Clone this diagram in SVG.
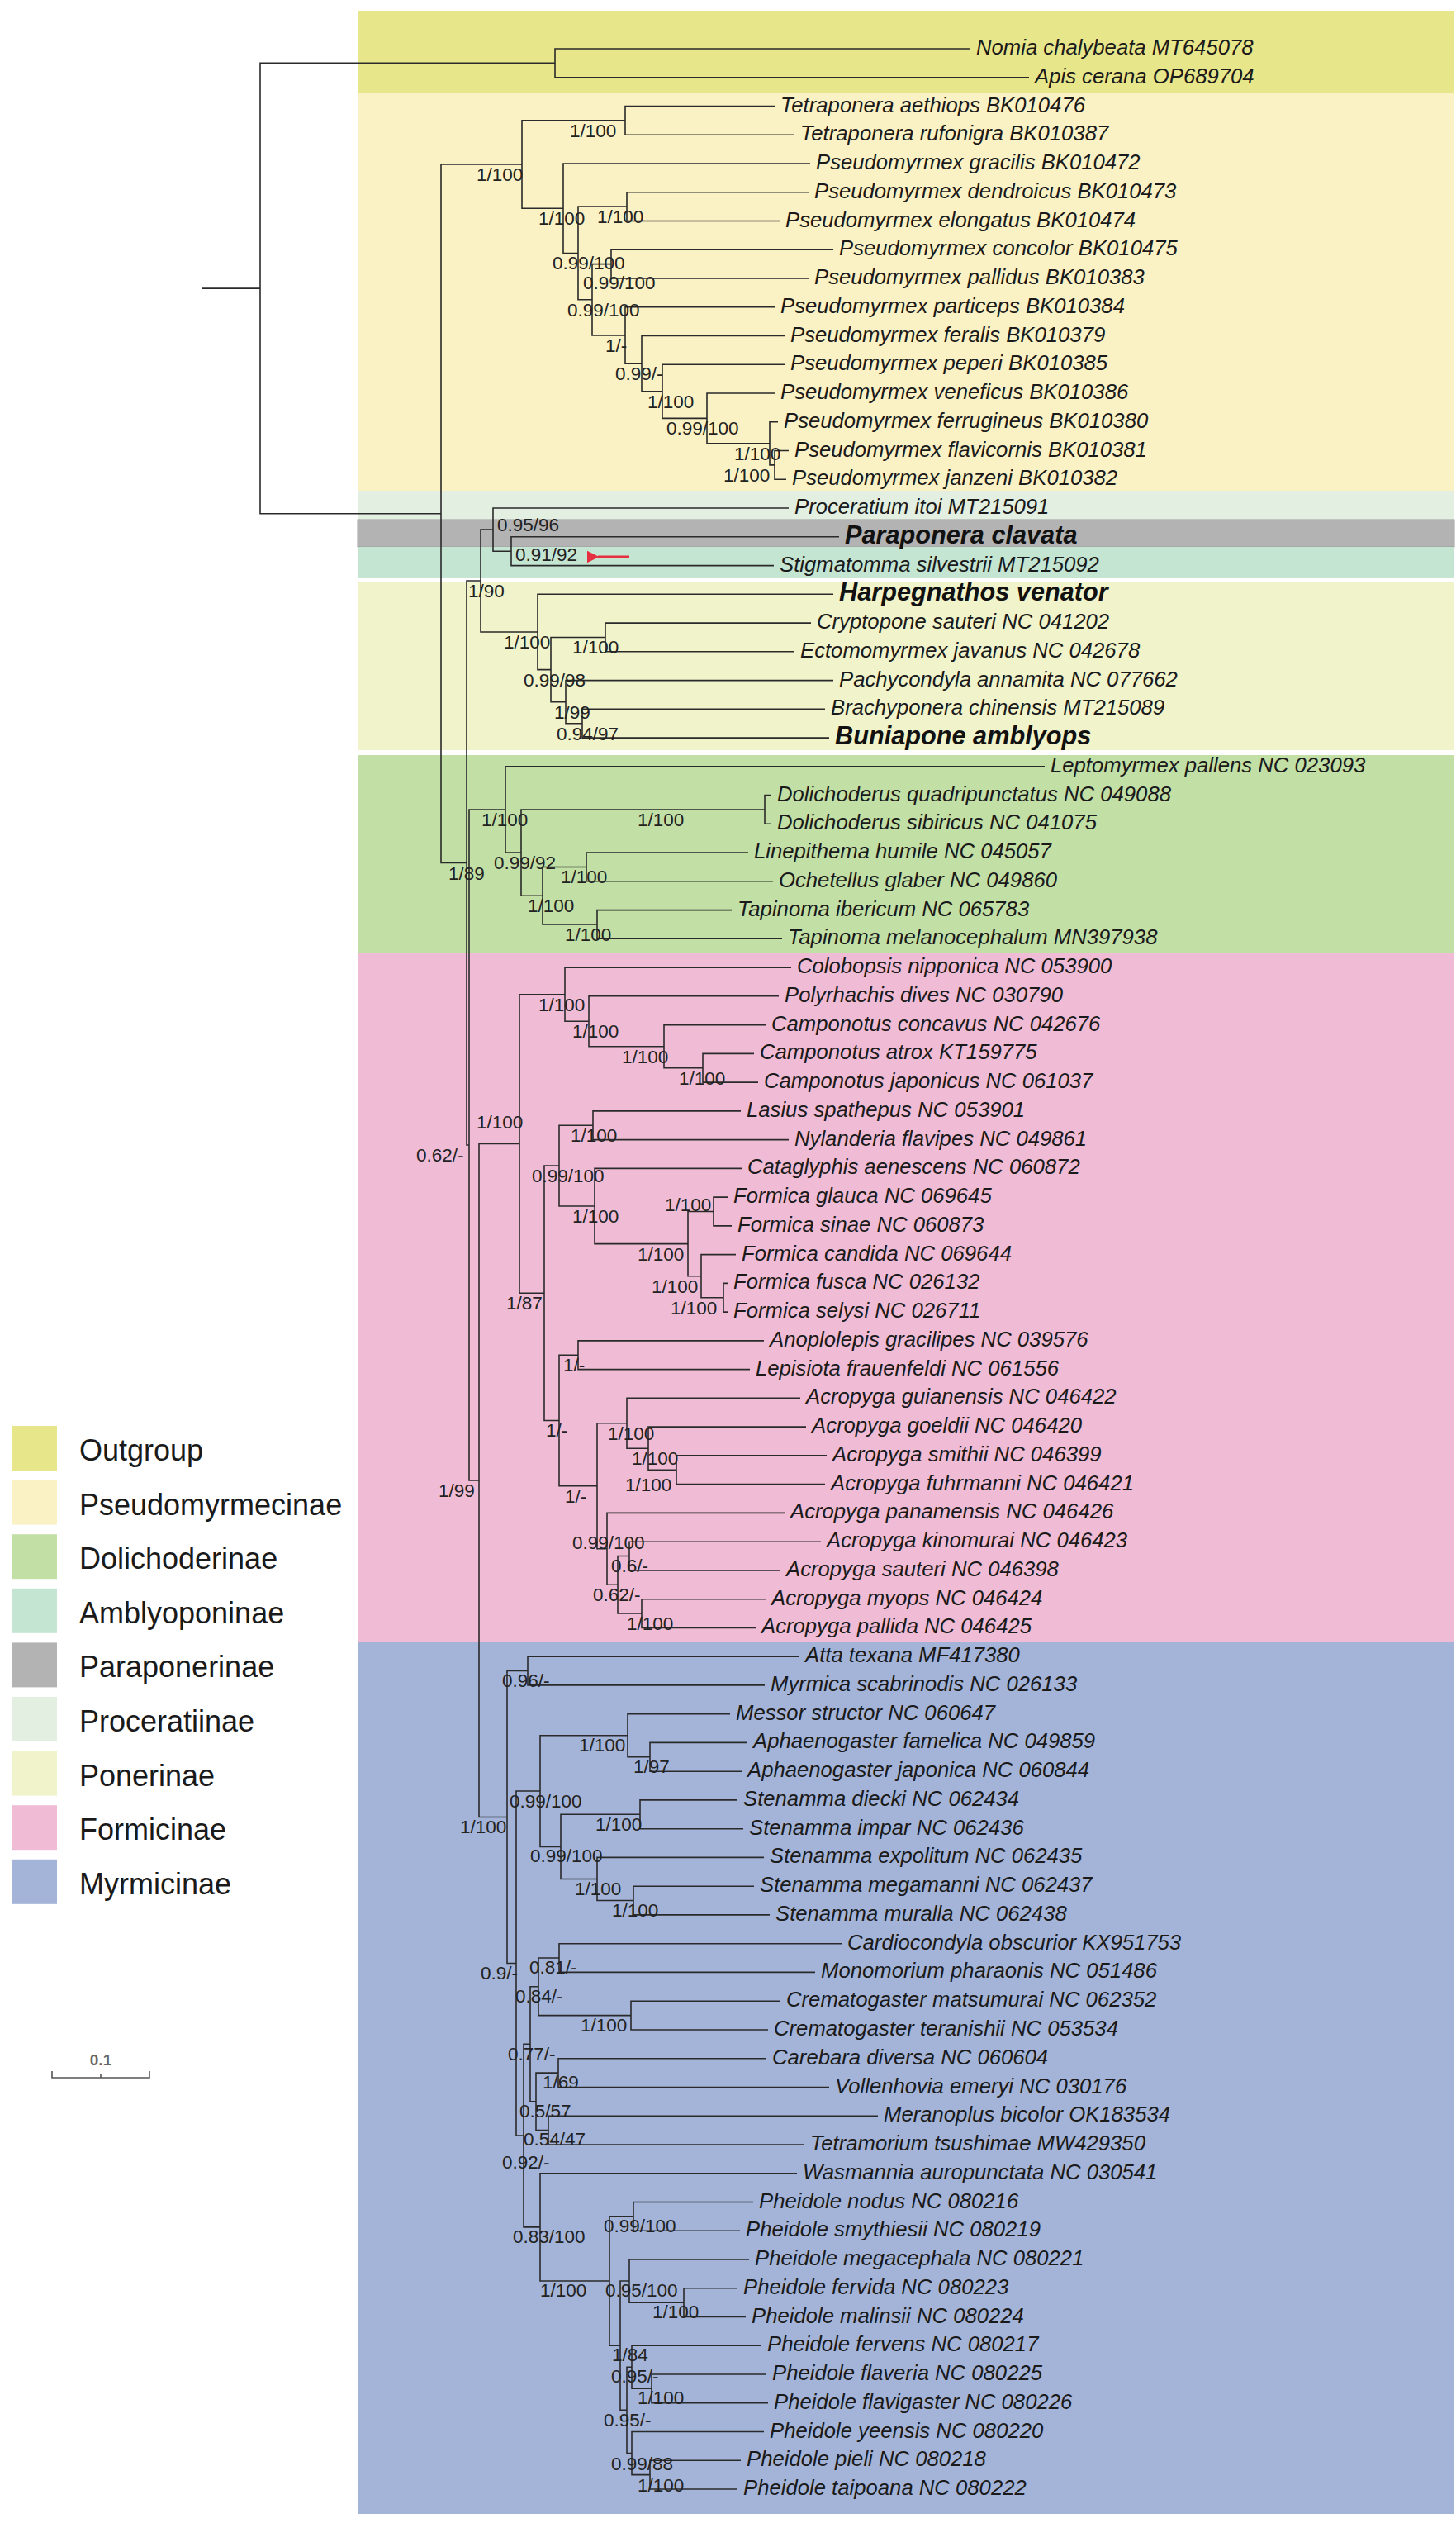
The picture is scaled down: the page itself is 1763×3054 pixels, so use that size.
<svg xmlns="http://www.w3.org/2000/svg" width="1763" height="3054" viewBox="0 0 1763 3054">
<defs>
<style>
.t{font-family:"Liberation Sans",Arial,sans-serif;font-style:italic;font-size:25.7px;fill:#1a1a1a}
.tb{font-family:"Liberation Sans",Arial,sans-serif;font-style:italic;font-weight:bold;font-size:30.7px;fill:#111}
.s{font-family:"Liberation Sans",Arial,sans-serif;font-size:22.5px;fill:#222}
.lg{font-family:"Liberation Sans",Arial,sans-serif;font-size:36px;fill:#1a1a1a}
.br{fill:none;stroke:#2a2a2a;stroke-width:1.6}
</style>
<marker id="ah" viewBox="0 0 10 10" refX="1" refY="5" markerWidth="5" markerHeight="5" orient="auto-start-reverse"><path d="M10 0L0 5L10 10z" fill="#e5303f"/></marker>
</defs>
<rect width="1763" height="3054" fill="#fff"/>
<g id="bands">
<rect x="433" y="13" width="1328" height="100" fill="#e8e68a"/>
<rect x="433" y="113" width="1328" height="481" fill="#faf2c5"/>
<rect x="433" y="594" width="1328" height="35" fill="#e2efe1"/>
<rect x="433" y="629" width="1328" height="33" fill="#b3b3b3" stroke="#9d9d9d" stroke-width="1"/>
<rect x="433" y="662" width="1328" height="38" fill="#c5e5d3"/>
<rect x="433" y="704" width="1328" height="204" fill="#f1f4cb"/>
<rect x="433" y="914" width="1328" height="240" fill="#c2dfa6"/>
<rect x="433" y="1154" width="1328" height="834" fill="#f0bcd5"/>
<rect x="433" y="1988" width="1328" height="1055" fill="#a3b4d8"/>
</g>
<g id="legend">
<rect x="15" y="1726" width="54" height="54" fill="#e8e68a"/><text class="lg" x="96" y="1768">Outgroup</text>
<rect x="15" y="1791.6" width="54" height="54" fill="#faf2c5"/><text class="lg" x="96" y="1833.6">Pseudomyrmecinae</text>
<rect x="15" y="1857.2" width="54" height="54" fill="#c2dfa6"/><text class="lg" x="96" y="1899.2">Dolichoderinae</text>
<rect x="15" y="1922.8" width="54" height="54" fill="#c5e5d3"/><text class="lg" x="96" y="1964.8">Amblyoponinae</text>
<rect x="15" y="1988.4" width="54" height="54" fill="#b3b3b3"/><text class="lg" x="96" y="2030.4">Paraponerinae</text>
<rect x="15" y="2054" width="54" height="54" fill="#e2efe1"/><text class="lg" x="96" y="2096">Proceratiinae</text>
<rect x="15" y="2119.6" width="54" height="54" fill="#f1f4cb"/><text class="lg" x="96" y="2161.6">Ponerinae</text>
<rect x="15" y="2185.2" width="54" height="54" fill="#f0bcd5"/><text class="lg" x="96" y="2227.2">Formicinae</text>
<rect x="15" y="2250.8" width="54" height="54" fill="#a3b4d8"/><text class="lg" x="96" y="2292.8">Myrmicinae</text>
</g>
<g id="scalebar">
<path d="M63 2507V2515H181V2507M122 2511V2515" fill="none" stroke="#555" stroke-width="1.6"/>
<text x="122" y="2500" text-anchor="middle" font-family="Liberation Sans,Arial,sans-serif" font-size="19" font-weight="bold" fill="#666">0.1</text>
</g>
<g id="connectors" class="br">
<path d="M245 349.1H315"/>
<path d="M672 76.4H315V621.8H534"/>
<path d="M1175 59H672V93.8H1246"/>
<path d="M632 199H534V1044.5H565"/>
<path d="M757 145.9H632V252.2H682"/>
<path d="M938 128.5H757V163.3H962"/>
<path d="M981 198H682V306.5H700"/>
<path d="M759 250.1H700V362.8H717"/>
<path d="M979 232.8H759V267.5H944"/>
<path d="M740 319.6H717V406H757"/>
<path d="M1009 302.3H740V337H979"/>
<path d="M938 371.8H757V440.2H777"/>
<path d="M950 406.5H777V473.8H802"/>
<path d="M950 441.3H802V506.4H856"/>
<path d="M938 476H856V536.8H932"/>
<path d="M942 510.8H932V562.9H938"/>
<path d="M955 545.5H938V580.3H952"/>
<path d="M582 703H565V1386H568"/>
<path d="M597 641.1H582V765H651"/>
<path d="M955 615H597V667.2H619"/>
<path d="M1016 649.8H619V684.6H937"/>
<path d="M1009 719.3H651V810.6H667"/>
<path d="M733 771.5H667V849.6H685"/>
<path d="M982 754.1H733V788.8H962"/>
<path d="M1009 823.6H685V875.7H705"/>
<path d="M999 858.3H705V893.1H1004"/>
<path d="M612 980H568V1792H580"/>
<path d="M1265 927.8H612V1032.1H631"/>
<path d="M926 980H631V1084.2H657"/>
<path d="M934 962.6H926V997.3H934"/>
<path d="M710 1049.5H657V1119H723"/>
<path d="M906 1032.1H710V1066.8H936"/>
<path d="M886 1101.6H723V1136.3H947"/>
<path d="M629 1384.5H580V2199.5H614"/>
<path d="M684 1203.7H629V1565.3H659"/>
<path d="M958 1171.1H684V1236.2H713"/>
<path d="M943 1205.8H713V1266.7H804"/>
<path d="M927 1240.6H804V1292.7H851"/>
<path d="M913 1275.4H851V1310.1H918"/>
<path d="M677 1411.1H659V1719.5H677"/>
<path d="M718 1362.2H677V1460H720"/>
<path d="M897 1344.9H718V1379.6H955"/>
<path d="M898 1414.4H720V1505.6H833"/>
<path d="M864 1466.5H833V1544.7H849"/>
<path d="M881 1449.1H864V1483.9H886"/>
<path d="M891 1518.6H849V1570.7H876"/>
<path d="M881 1553.4H876V1588.1H881"/>
<path d="M700 1640.2H677V1798.8H723"/>
<path d="M925 1622.9H700V1657.6H908"/>
<path d="M759 1722.8H723V1874.8H735"/>
<path d="M969 1692.4H759V1753.2H785"/>
<path d="M976 1727.1H785V1779.2H819"/>
<path d="M1001 1761.9H819V1796.6H999"/>
<path d="M950 1831.4H735V1918.3H748"/>
<path d="M762 1883.5H748V1953H777"/>
<path d="M994 1866.2H762V1900.9H945"/>
<path d="M927 1935.7H777V1970.4H915"/>
<path d="M639 2022.5H614V2376.5H625"/>
<path d="M968 2005.2H639V2039.9H926"/>
<path d="M654 2168H625V2585.1H634"/>
<path d="M760 2100.7H654V2235.4H679"/>
<path d="M884 2074.7H760V2126.8H787"/>
<path d="M905 2109.4H787V2144.2H898"/>
<path d="M775 2196.3H679V2274.5H723"/>
<path d="M893 2178.9H775V2213.7H900"/>
<path d="M925 2248.4H723V2300.5H767"/>
<path d="M913 2283.2H767V2317.9H932"/>
<path d="M642 2474.3H634V2695.9H654"/>
<path d="M652 2404.8H642V2543.9H649"/>
<path d="M677 2370H652V2439.6H764"/>
<path d="M1019 2352.7H677V2387.4H987"/>
<path d="M945 2422.2H764V2457H930"/>
<path d="M676 2509.1H649V2578.6H664"/>
<path d="M928 2491.7H676V2526.5H1004"/>
<path d="M1063 2561.2H664V2596H974"/>
<path d="M965 2630.7H654V2761H738"/>
<path d="M767 2682.8H738V2839.2H751"/>
<path d="M912 2665.5H767V2700.2H896"/>
<path d="M762 2761H751V2917.4H759"/>
<path d="M907 2735H762V2787.1H828"/>
<path d="M893 2769.7H828V2804.5H903"/>
<path d="M765 2865.3H759V2969.5H765"/>
<path d="M922 2839.2H765V2891.3H789"/>
<path d="M928 2874H789V2908.7H930"/>
<path d="M925 2943.5H765V2995.6H787"/>
<path d="M897 2978.2H787V3013H893"/>
<path d="M762 674H724" stroke="#e5303f" stroke-width="3" marker-end="url(#ah)"/>
</g>
<g id="tips">
<g id="tip01"><text class="t" x="1182" y="66">Nomia chalybeata MT645078</text></g>
<g id="tip02"><text class="t" x="1253" y="100.8">Apis cerana OP689704</text></g>
<g id="tip03"><text class="t" x="945" y="135.5">Tetraponera aethiops BK010476</text></g>
<g id="tip04"><text class="t" x="969" y="170.3">Tetraponera rufonigra BK010387</text></g>
<g id="tip05"><text class="t" x="988" y="205">Pseudomyrmex gracilis BK010472</text></g>
<g id="tip06"><text class="t" x="986" y="239.8">Pseudomyrmex dendroicus BK010473</text></g>
<g id="tip07"><text class="t" x="951" y="274.5">Pseudomyrmex elongatus BK010474</text></g>
<g id="tip08"><text class="t" x="1016" y="309.3">Pseudomyrmex concolor BK010475</text></g>
<g id="tip09"><text class="t" x="986" y="344">Pseudomyrmex pallidus BK010383</text></g>
<g id="tip10"><text class="t" x="945" y="378.8">Pseudomyrmex particeps BK010384</text></g>
<g id="tip11"><text class="t" x="957" y="413.5">Pseudomyrmex feralis BK010379</text></g>
<g id="tip12"><text class="t" x="957" y="448.3">Pseudomyrmex peperi BK010385</text></g>
<g id="tip13"><text class="t" x="945" y="483">Pseudomyrmex veneficus BK010386</text></g>
<g id="tip14"><text class="t" x="949" y="517.8">Pseudomyrmex ferrugineus BK010380</text></g>
<g id="tip15"><text class="t" x="962" y="552.5">Pseudomyrmex flavicornis BK010381</text></g>
<g id="tip16"><text class="t" x="959" y="587.3">Pseudomyrmex janzeni BK010382</text></g>
<g id="tip17"><text class="t" x="962" y="622">Proceratium itoi MT215091</text></g>
<g id="tip18"><text class="tb" x="1023" y="657.8">Paraponera clavata</text></g>
<g id="tip19"><text class="t" x="944" y="691.6">Stigmatomma silvestrii MT215092</text></g>
<g id="tip20"><text class="tb" x="1016" y="727.3">Harpegnathos venator</text></g>
<g id="tip21"><text class="t" x="989" y="761.1">Cryptopone sauteri NC 041202</text></g>
<g id="tip22"><text class="t" x="969" y="795.8">Ectomomyrmex javanus NC 042678</text></g>
<g id="tip23"><text class="t" x="1016" y="830.6">Pachycondyla annamita NC 077662</text></g>
<g id="tip24"><text class="t" x="1006" y="865.3">Brachyponera chinensis MT215089</text></g>
<g id="tip25"><text class="tb" x="1011" y="901.1">Buniapone amblyops</text></g>
<g id="tip26"><text class="t" x="1272" y="934.8">Leptomyrmex pallens NC 023093</text></g>
<g id="tip27"><text class="t" x="941" y="969.6">Dolichoderus quadripunctatus NC 049088</text></g>
<g id="tip28"><text class="t" x="941" y="1004.3">Dolichoderus sibiricus NC 041075</text></g>
<g id="tip29"><text class="t" x="913" y="1039.1">Linepithema humile NC 045057</text></g>
<g id="tip30"><text class="t" x="943" y="1073.8">Ochetellus glaber NC 049860</text></g>
<g id="tip31"><text class="t" x="893" y="1108.6">Tapinoma ibericum NC 065783</text></g>
<g id="tip32"><text class="t" x="954" y="1143.3">Tapinoma melanocephalum MN397938</text></g>
<g id="tip33"><text class="t" x="965" y="1178.1">Colobopsis nipponica NC 053900</text></g>
<g id="tip34"><text class="t" x="950" y="1212.8">Polyrhachis dives NC 030790</text></g>
<g id="tip35"><text class="t" x="934" y="1247.6">Camponotus concavus NC 042676</text></g>
<g id="tip36"><text class="t" x="920" y="1282.4">Camponotus atrox KT159775</text></g>
<g id="tip37"><text class="t" x="925" y="1317.1">Camponotus japonicus NC 061037</text></g>
<g id="tip38"><text class="t" x="904" y="1351.9">Lasius spathepus NC 053901</text></g>
<g id="tip39"><text class="t" x="962" y="1386.6">Nylanderia flavipes NC 049861</text></g>
<g id="tip40"><text class="t" x="905" y="1421.4">Cataglyphis aenescens NC 060872</text></g>
<g id="tip41"><text class="t" x="888" y="1456.1">Formica glauca NC 069645</text></g>
<g id="tip42"><text class="t" x="893" y="1490.9">Formica sinae NC 060873</text></g>
<g id="tip43"><text class="t" x="898" y="1525.6">Formica candida NC 069644</text></g>
<g id="tip44"><text class="t" x="888" y="1560.4">Formica fusca NC 026132</text></g>
<g id="tip45"><text class="t" x="888" y="1595.1">Formica selysi NC 026711</text></g>
<g id="tip46"><text class="t" x="932" y="1629.9">Anoplolepis gracilipes NC 039576</text></g>
<g id="tip47"><text class="t" x="915" y="1664.6">Lepisiota frauenfeldi NC 061556</text></g>
<g id="tip48"><text class="t" x="976" y="1699.4">Acropyga guianensis NC 046422</text></g>
<g id="tip49"><text class="t" x="983" y="1734.1">Acropyga goeldii NC 046420</text></g>
<g id="tip50"><text class="t" x="1008" y="1768.9">Acropyga smithii NC 046399</text></g>
<g id="tip51"><text class="t" x="1006" y="1803.6">Acropyga fuhrmanni NC 046421</text></g>
<g id="tip52"><text class="t" x="957" y="1838.4">Acropyga panamensis NC 046426</text></g>
<g id="tip53"><text class="t" x="1001" y="1873.2">Acropyga kinomurai NC 046423</text></g>
<g id="tip54"><text class="t" x="952" y="1907.9">Acropyga sauteri NC 046398</text></g>
<g id="tip55"><text class="t" x="934" y="1942.7">Acropyga myops NC 046424</text></g>
<g id="tip56"><text class="t" x="922" y="1977.4">Acropyga pallida NC 046425</text></g>
<g id="tip57"><text class="t" x="975" y="2012.2">Atta texana MF417380</text></g>
<g id="tip58"><text class="t" x="933" y="2046.9">Myrmica scabrinodis NC 026133</text></g>
<g id="tip59"><text class="t" x="891" y="2081.7">Messor structor NC 060647</text></g>
<g id="tip60"><text class="t" x="912" y="2116.4">Aphaenogaster famelica NC 049859</text></g>
<g id="tip61"><text class="t" x="905" y="2151.2">Aphaenogaster japonica NC 060844</text></g>
<g id="tip62"><text class="t" x="900" y="2185.9">Stenamma diecki NC 062434</text></g>
<g id="tip63"><text class="t" x="907" y="2220.7">Stenamma impar NC 062436</text></g>
<g id="tip64"><text class="t" x="932" y="2255.4">Stenamma expolitum NC 062435</text></g>
<g id="tip65"><text class="t" x="920" y="2290.2">Stenamma megamanni NC 062437</text></g>
<g id="tip66"><text class="t" x="939" y="2324.9">Stenamma muralla NC 062438</text></g>
<g id="tip67"><text class="t" x="1026" y="2359.7">Cardiocondyla obscurior KX951753</text></g>
<g id="tip68"><text class="t" x="994" y="2394.4">Monomorium pharaonis NC 051486</text></g>
<g id="tip69"><text class="t" x="952" y="2429.2">Crematogaster matsumurai NC 062352</text></g>
<g id="tip70"><text class="t" x="937" y="2464">Crematogaster teranishii NC 053534</text></g>
<g id="tip71"><text class="t" x="935" y="2498.7">Carebara diversa NC 060604</text></g>
<g id="tip72"><text class="t" x="1011" y="2533.5">Vollenhovia emeryi NC 030176</text></g>
<g id="tip73"><text class="t" x="1070" y="2568.2">Meranoplus bicolor OK183534</text></g>
<g id="tip74"><text class="t" x="981" y="2603">Tetramorium tsushimae MW429350</text></g>
<g id="tip75"><text class="t" x="972" y="2637.7">Wasmannia auropunctata NC 030541</text></g>
<g id="tip76"><text class="t" x="919" y="2672.5">Pheidole nodus NC 080216</text></g>
<g id="tip77"><text class="t" x="903" y="2707.2">Pheidole smythiesii NC 080219</text></g>
<g id="tip78"><text class="t" x="914" y="2742">Pheidole megacephala NC 080221</text></g>
<g id="tip79"><text class="t" x="900" y="2776.7">Pheidole fervida NC 080223</text></g>
<g id="tip80"><text class="t" x="910" y="2811.5">Pheidole malinsii NC 080224</text></g>
<g id="tip81"><text class="t" x="929" y="2846.2">Pheidole fervens NC 080217</text></g>
<g id="tip82"><text class="t" x="935" y="2881">Pheidole flaveria NC 080225</text></g>
<g id="tip83"><text class="t" x="937" y="2915.7">Pheidole flavigaster NC 080226</text></g>
<g id="tip84"><text class="t" x="932" y="2950.5">Pheidole yeensis NC 080220</text></g>
<g id="tip85"><text class="t" x="904" y="2985.2">Pheidole pieli NC 080218</text></g>
<g id="tip86"><text class="t" x="900" y="3020">Pheidole taipoana NC 080222</text></g>
</g>
<g id="supports">
<g id="n-pseudomyrmecinae"><text class="s" x="577" y="219">1/100</text></g>
<g id="n-tetraponera"><text class="s" x="690" y="166">1/100</text></g>
<g id="n-pseudomyrmex"><text class="s" x="652" y="272">1/100</text></g>
<g id="n-de"><text class="s" x="723" y="270">1/100</text></g>
<g id="n-p0"><text class="s" x="669" y="326">0.99/100</text></g>
<g id="n-cp"><text class="s" x="706" y="350">0.99/100</text></g>
<g id="n-p1"><text class="s" x="687" y="383">0.99/100</text></g>
<g id="n-p2"><text class="s" x="733" y="426">1/-</text></g>
<g id="n-p3"><text class="s" x="745" y="460">0.99/-</text></g>
<g id="n-p4"><text class="s" x="784" y="494">1/100</text></g>
<g id="n-vffj"><text class="s" x="807" y="526">0.99/100</text></g>
<g id="n-ffj"><text class="s" x="889" y="557">1/100</text></g>
<g id="n-fj"><text class="s" x="876" y="583">1/100</text></g>
<g id="n-pps"><text class="s" x="602" y="643">0.95/96</text></g>
<g id="n-ps"><text class="s" x="624" y="679">0.91/92</text></g>
<g id="n-poneroid"><text class="s" x="567" y="723">1/90</text></g>
<g id="n-ponerinae"><text class="s" x="610" y="785">1/100</text></g>
<g id="n-ce"><text class="s" x="693" y="791">1/100</text></g>
<g id="n-x"><text class="s" x="634" y="831">0.99/98</text></g>
<g id="n-y"><text class="s" x="671" y="870">1/99</text></g>
<g id="n-z"><text class="s" x="674" y="896">0.94/97</text></g>
<g id="n-a"><text class="s" x="543" y="1065">1/89</text></g>
<g id="n-d0"><text class="s" x="583" y="1000">1/100</text></g>
<g id="n-dol"><text class="s" x="772" y="1000">1/100</text></g>
<g id="n-d1"><text class="s" x="598" y="1052">0.99/92</text></g>
<g id="n-d2"><text class="s" x="639" y="1104">1/100</text></g>
<g id="n-lo"><text class="s" x="679" y="1069">1/100</text></g>
<g id="n-t"><text class="s" x="684" y="1139">1/100</text></g>
<g id="n-b"><text class="s" x="504" y="1406">0.62/-</text></g>
<g id="n-f0"><text class="s" x="577" y="1366">1/100</text></g>
<g id="n-f1"><text class="s" x="652" y="1224">1/100</text></g>
<g id="n-f2"><text class="s" x="693" y="1256">1/100</text></g>
<g id="n-f3"><text class="s" x="753" y="1287">1/100</text></g>
<g id="n-f4"><text class="s" x="822" y="1313">1/100</text></g>
<g id="n-ln"><text class="s" x="691" y="1382">1/100</text></g>
<g id="n-l"><text class="s" x="644" y="1431">0.99/100</text></g>
<g id="n-cat"><text class="s" x="693" y="1480">1/100</text></g>
<g id="n-fm"><text class="s" x="772" y="1526">1/100</text></g>
<g id="n-gs"><text class="s" x="805" y="1466">1/100</text></g>
<g id="n-cfs"><text class="s" x="789" y="1565">1/100</text></g>
<g id="n-fs"><text class="s" x="812" y="1591">1/100</text></g>
<g id="n-f5"><text class="s" x="613" y="1585">1/87</text></g>
<g id="n-al"><text class="s" x="682" y="1660">1/-</text></g>
<g id="n-g"><text class="s" x="661" y="1739">1/-</text></g>
<g id="n-ac1"><text class="s" x="736" y="1743">1/100</text></g>
<g id="n-ac1b"><text class="s" x="765" y="1773">1/100</text></g>
<g id="n-sf"><text class="s" x="757" y="1805">1/100</text></g>
<g id="n-c"><text class="s" x="531" y="1812">1/99</text></g>
<g id="n-ac"><text class="s" x="684" y="1819">1/-</text></g>
<g id="n-ac2"><text class="s" x="693" y="1875">0.99/100</text></g>
<g id="n-ks"><text class="s" x="740" y="1903">0.6/-</text></g>
<g id="n-ac2b"><text class="s" x="718" y="1938">0.62/-</text></g>
<g id="n-mp"><text class="s" x="759" y="1973">1/100</text></g>
<g id="n-am"><text class="s" x="608" y="2042">0.96/-</text></g>
<g id="n-ma"><text class="s" x="701" y="2120">1/100</text></g>
<g id="n-aph"><text class="s" x="767" y="2146">1/97</text></g>
<g id="n-ms"><text class="s" x="617" y="2188">0.99/100</text></g>
<g id="n-myrmicinae"><text class="s" x="557" y="2219">1/100</text></g>
<g id="n-di"><text class="s" x="721" y="2216">1/100</text></g>
<g id="n-sten"><text class="s" x="642" y="2254">0.99/100</text></g>
<g id="n-se"><text class="s" x="696" y="2294">1/100</text></g>
<g id="n-mm"><text class="s" x="741" y="2320">1/100</text></g>
<g id="n-cm"><text class="s" x="641" y="2389">0.81/-</text></g>
<g id="n-m1"><text class="s" x="582" y="2396">0.9/-</text></g>
<g id="n-cmc"><text class="s" x="624" y="2424">0.84/-</text></g>
<g id="n-crem"><text class="s" x="703" y="2459">1/100</text></g>
<g id="n-n1"><text class="s" x="615" y="2494">0.77/-</text></g>
<g id="n-cv"><text class="s" x="657" y="2528">1/69</text></g>
<g id="n-cvmt"><text class="s" x="629" y="2563">0.5/57</text></g>
<g id="n-mt"><text class="s" x="634" y="2597">0.54/47</text></g>
<g id="n-v"><text class="s" x="608" y="2625">0.92/-</text></g>
<g id="n-w"><text class="s" x="621" y="2715">0.83/100</text></g>
<g id="n-ns"><text class="s" x="731" y="2702">0.99/100</text></g>
<g id="n-p0m"><text class="s" x="654" y="2780">1/100</text></g>
<g id="n-meg"><text class="s" x="733" y="2780">0.95/100</text></g>
<g id="n-fm2"><text class="s" x="790" y="2806">1/100</text></g>
<g id="n-p1m"><text class="s" x="741" y="2858">1/84</text></g>
<g id="n-q1"><text class="s" x="740" y="2884">0.95/-</text></g>
<g id="n-ff"><text class="s" x="772" y="2910">1/100</text></g>
<g id="n-p2m"><text class="s" x="731" y="2937">0.95/-</text></g>
<g id="n-q2"><text class="s" x="740" y="2990">0.99/88</text></g>
<g id="n-pt"><text class="s" x="772" y="3016">1/100</text></g>
</g>
</svg>
